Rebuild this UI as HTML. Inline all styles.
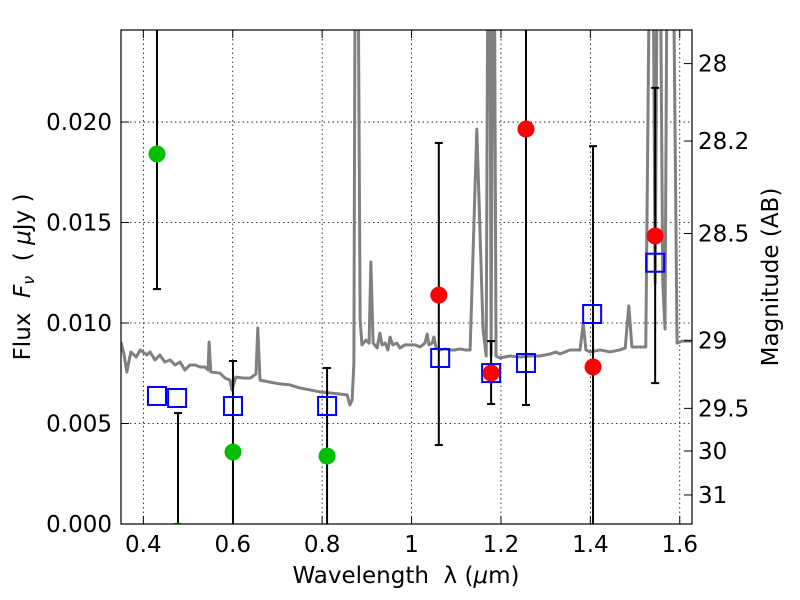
<!DOCTYPE html>
<html><head><meta charset="utf-8"><style>
body{margin:0;background:#fff;}
svg{display:block;font-family:"DejaVu Sans","Liberation Sans",sans-serif;}
</style></head><body>
<svg id="chart" width="800" height="600">
<defs><clipPath id="clip"><rect x="121" y="30" width="571" height="494"/></clipPath></defs>
<rect x="0" y="0" width="800" height="600" fill="#fff"/>
<g id="grid"></g>
<g id="plot" clip-path="url(#clip)"></g>
<rect x="121" y="30" width="571" height="494" fill="none" stroke="#000" stroke-width="1.2"/>
<g id="axes"></g>
<text x="406" y="583" font-size="23" text-anchor="middle">Wavelength&#160;&#160;λ (<tspan font-style="italic">μ</tspan>m)</text>
<text transform="translate(30,277) rotate(-90)" font-size="23" text-anchor="middle">Flux&#160;&#160;<tspan font-style="italic">F</tspan><tspan font-size="16" dy="4" font-style="italic">ν</tspan><tspan dy="-4">&#160;&#160;( <tspan font-style="italic">μ</tspan>Jy )</tspan></text>
<text transform="translate(778,277) rotate(-90)" font-size="23" text-anchor="middle">Magnitude (AB)</text>
</svg>
<script>
const xTicks=[0.4,0.6,0.8,1,1.2,1.4,1.6];
const xTickLabels=["0.4","0.6","0.8","1","1.2","1.4","1.6"];
const yTicks=[0,0.005,0.01,0.015,0.02];
const yTickLabels=["0.000","0.005","0.010","0.015","0.020"];
const magTicks=[28,28.2,28.5,29,29.5,30,31];
const magTickLabels=["28","28.2","28.5","29","29.5","30","31"];
const spectrum=[[0.350,0.00905],[0.357,0.00841],[0.363,0.00756],[0.372,0.00856],[0.384,0.00831],[0.393,0.00866],[0.399,0.00856],[0.408,0.00841],[0.415,0.00856],[0.426,0.00816],[0.437,0.00841],[0.448,0.00806],[0.460,0.00816],[0.471,0.00791],[0.482,0.00806],[0.493,0.00766],[0.504,0.00791],[0.516,0.00791],[0.527,0.00781],[0.538,0.00781],[0.545,0.00766],[0.547,0.00905],[0.551,0.00756],[0.571,0.00751],[0.583,0.00726],[0.594,0.00716],[0.598,0.00667],[0.607,0.00731],[0.627,0.00726],[0.639,0.00726],[0.652,0.00746],[0.656,0.00975],[0.661,0.00716],[0.683,0.00706],[0.706,0.00697],[0.728,0.00692],[0.750,0.00677],[0.773,0.00667],[0.795,0.00657],[0.818,0.00652],[0.840,0.00647],[0.856,0.00642],[0.862,0.00592],[0.867,0.00617],[0.871,0.008],[0.874,0.03],[0.880,0.03],[0.885,0.01015],[0.889,0.00891],[0.898,0.00915],[0.905,0.009],[0.909,0.01303],[0.914,0.009],[0.923,0.00876],[0.929,0.0095],[0.934,0.00891],[0.941,0.009],[0.947,0.00866],[0.952,0.0093],[0.958,0.00891],[0.967,0.009],[0.974,0.00876],[0.985,0.00891],[0.996,0.00891],[1.008,0.00891],[1.019,0.00881],[1.030,0.009],[1.035,0.00945],[1.039,0.00891],[1.046,0.009],[1.050,0.0093],[1.055,0.00876],[1.064,0.00866],[1.075,0.00871],[1.086,0.00866],[1.097,0.00866],[1.108,0.00871],[1.120,0.00866],[1.131,0.00866],[1.146,0.01965],[1.160,0.00965],[1.167,0.00836],[1.171,0.03],[1.175,0.03],[1.178,0.00836],[1.182,0.03],[1.185,0.03],[1.189,0.00836],[1.198,0.00826],[1.220,0.00836],[1.243,0.00831],[1.265,0.00836],[1.287,0.00836],[1.310,0.00846],[1.323,0.00856],[1.332,0.00846],[1.343,0.00856],[1.354,0.00866],[1.366,0.00866],[1.377,0.00866],[1.384,0.01],[1.390,0.00866],[1.399,0.00856],[1.422,0.00866],[1.444,0.00856],[1.466,0.00866],[1.478,0.00876],[1.486,0.01085],[1.493,0.00881],[1.524,0.00881],[1.533,0.03],[1.540,0.03],[1.545,0.012],[1.550,0.03],[1.556,0.03],[1.562,0.012],[1.567,0.0097],[1.572,0.03],[1.580,0.03],[1.585,0.03],[1.594,0.009],[1.605,0.0091],[1.627,0.0091]];
const greenX=[0.4305,0.4775,0.6005,0.811];
const greenY=[0.01841,-0.00035,0.00358,0.00338];
const greenHi=[0.03,0.00552,0.00811,0.00776];
const greenLo=[0.01169,-0.001,-0.001,-0.001];
const redX=[1.061,1.178,1.256,1.406,1.545];
const redY=[0.01139,0.00751,0.01965,0.00781,0.01433];
const redHi=[0.01896,0.0091,0.03,0.0188,0.0217];
const redLo=[0.00393,0.00597,0.00592,-0.001,0.00701];
const blueX=[0.4305,0.4755,0.6005,0.811,1.064,1.178,1.256,1.404,1.545];
const blueY=[0.00637,0.00627,0.00587,0.00587,0.00826,0.00751,0.00801,0.01045,0.0130];

const X0=0.35,X1=1.6274,PX0=121,PX1=692,Y0=0,Y1=0.02458,PY0=524,PY1=30;
const sx=v=>PX0+(v-X0)/(X1-X0)*(PX1-PX0);
const sy=v=>PY0-(v-Y0)/(Y1-Y0)*(PY0-PY1);
const magToFlux=m=>Math.pow(10,(23.9-m)/2.5);
const NS="http://www.w3.org/2000/svg";
function mk(tag,attrs,parent){const e=document.createElementNS(NS,tag);for(const k in attrs)e.setAttribute(k,attrs[k]);parent.appendChild(e);return e;}
const grid=document.getElementById('grid'),plot=document.getElementById('plot'),axes=document.getElementById('axes');
xTicks.forEach((t,i)=>{const x=sx(t);
 const g=mk('line',{x1:x,x2:x,y1:30,y2:524,stroke:'#000','stroke-width':0.8,'stroke-dasharray':'1.5,3'},grid);
 
 
 mk('line',{x1:x,x2:x,y1:524,y2:516,stroke:'#000'},axes);
 mk('line',{x1:x,x2:x,y1:30,y2:38,stroke:'#000'},axes);
 const tx=mk('text',{x:x,y:552,'font-size':23,'text-anchor':'middle'},axes);tx.textContent=xTickLabels[i];
 
 
});
yTicks.forEach((t,i)=>{const y=sy(t);
 const g=mk('line',{x1:121,x2:692,y1:y,y2:y,stroke:'#000','stroke-width':0.8,'stroke-dasharray':'1.5,3'},grid);
 
 
 mk('line',{x1:121,x2:129,y1:y,y2:y,stroke:'#000'},axes);
 const tx=mk('text',{x:112,y:y+8,'font-size':23,'text-anchor':'end'},axes);tx.textContent=yTickLabels[i];
 
 
});
magTicks.forEach((m,i)=>{const y=sy(magToFlux(m));
 mk('line',{x1:684,x2:692,y1:y,y2:y,stroke:'#000'},axes);
 const tx=mk('text',{x:698,y:y+8,'font-size':23},axes);tx.textContent=magTickLabels[i];
 
 
});
const sp=mk('polyline',{points:spectrum.map(p=>sx(p[0])+','+sy(p[1])).join(' '),fill:'none',stroke:'#808080','stroke-width':3,'stroke-linejoin':'round'},plot);


function errbar(x,lo,hi,name){const px=sx(x);
 const l=mk('line',{x1:px,x2:px,y1:sy(lo),y2:sy(hi),stroke:'#000','stroke-width':2},plot);
 
 
 [lo,hi].forEach(v=>{if(v>0&&v<Y1)mk('line',{x1:px-4,x2:px+4,y1:sy(v),y2:sy(v),stroke:'#000','stroke-width':2},plot);});
}
greenX.forEach((x,i)=>errbar(x,greenLo[i],greenHi[i],'green-errorbar'));
redX.forEach((x,i)=>errbar(x,redLo[i],redHi[i],'red-errorbar'));
blueX.forEach((x,i)=>{const r=mk('rect',{x:sx(x)-9,y:sy(blueY[i])-9,width:18,height:18,fill:'none',stroke:'#0000ff','stroke-width':2},plot);
 
 });
greenX.forEach((x,i)=>{const c=mk('circle',{cx:sx(x),cy:sy(greenY[i]),r:8.5,fill:'#00bf00'},plot);
 
 });
redX.forEach((x,i)=>{const c=mk('circle',{cx:sx(x),cy:sy(redY[i]),r:8.5,fill:'#ff0000'},plot);
 
 });
</script>
</body></html>
